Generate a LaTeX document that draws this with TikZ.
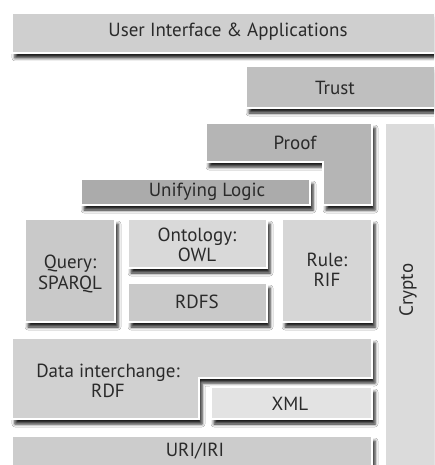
\documentclass[tikz,border=0pt]{standalone}
\usepackage{fontspec}
\setmainfont{PT Sans}
\usetikzlibrary{shadows.blur}
\definecolor{ink}{HTML}{2A2A2A}
\tikzset{
  layer/.style={draw=white, line width=1.2pt,
    blur shadow={shadow xshift=3pt, shadow yshift=-5pt,
                 shadow blur radius=3pt, shadow opacity=88}},
  lbl/.style={text=ink, font=\fontsize{19}{20.5}\selectfont, align=center, inner sep=0pt}
}
\begin{document}
\begin{tikzpicture}[x=1pt,y=-1pt]
  \useasboundingbox (0,0) rectangle (434,465);
  \fill[white] (0,0) rectangle (434,465);
  \clip (0,0) rectangle (434,465);

  % application layers
  \path[layer, fill=black!19] (12,13) rectangle (450,53);
  \path[layer, fill=black!25] (246,66) rectangle (450,108);
  \path[layer, fill=black!29] (206,123) -- (372,123) -- (372,205) -- (323,205) -- (323,162) -- (206,162) -- cycle;
  \path[layer, fill=black!14] (385,123) rectangle (450,480);
  \path[layer, fill=black!33] (81,179) rectangle (310,205);

  % query, ontology and rule layers
  \path[layer, fill=black!21] (25,219) rectangle (115,322);
  \path[layer, fill=black!15] (128,219) rectangle (267,268);
  \path[layer, fill=black!21] (128,283) rectangle (267,322);
  \path[layer, fill=black!16] (282,219) rectangle (372,322);

  % data layers
  \path[layer, fill=black!18] (12,338) -- (372,338) -- (372,378) -- (199,378) -- (199,419) -- (12,419) -- cycle;
  \path[layer, fill=black!11] (211,387) rectangle (372,419);
  \path[layer, fill=black!20] (12,436) rectangle (372,480);

  % labels
  \node[lbl] (ui) at (228,32) {User Interface \& Applications};
  \node[lbl] (trust) at (335,88) {Trust};
  \node[lbl] (proof) at (295,143) {Proof};
  \node[lbl] (logic) at (207,192) {Unifying Logic};
  \node[lbl] (query) at (70,274) {Query:\\SPARQL};
  \node[lbl] (onto) at (197,245) {Ontology:\\OWL};
  \node[lbl] (rdfs) at (197,302) {RDFS};
  \node[lbl] (rule) at (327,270) {Rule:\\RIF};
  \node[lbl, rotate=90] (crypto) at (408,290) {Crypto};
  \node[lbl] (rdf) at (108,381) {Data interchange:\\RDF};
  \node[lbl] (xml) at (290,404) {XML};
  \node[lbl] (uri) at (195,451) {URI/IRI};
\end{tikzpicture}
\end{document}
